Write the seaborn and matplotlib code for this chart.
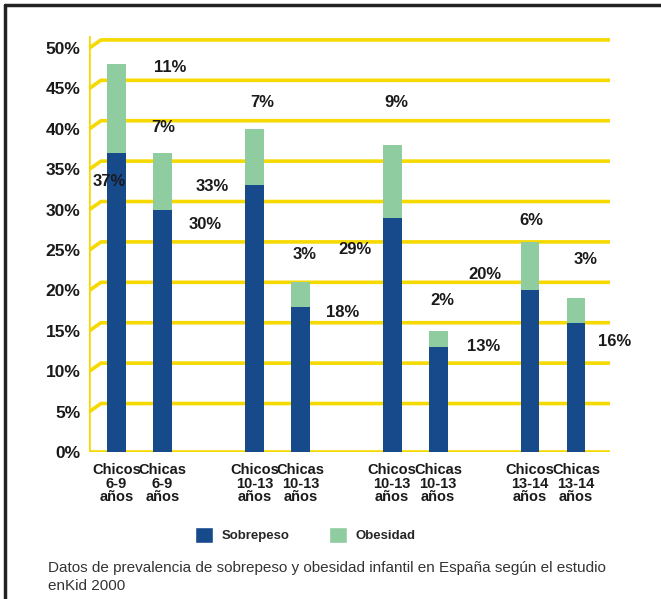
import numpy as np
import pandas as pd
import matplotlib
matplotlib.use("Agg")
import matplotlib.pyplot as plt
import seaborn as sns
from matplotlib.patches import Patch
from matplotlib.lines import Line2D

sns.set_theme(style="white")
plt.rcParams['font.family'] = ['Liberation Sans', 'DejaVu Sans']

# datos
grupos = ["Chicos\n6-9\naños", "Chicas\n6-9\naños",
          "Chicos\n10-13\naños", "Chicas\n10-13\naños",
          "Chicos\n10-13\naños", "Chicas\n10-13\naños",
          "Chicos\n13-14\naños", "Chicas\n13-14\naños"]
sobrepeso = [37, 30, 33, 18, 29, 13, 20, 16]
obesidad = [11, 7, 7, 3, 9, 2, 6, 3]
yticks = [0, 5, 10, 15, 20, 25, 30, 35, 40, 45, 50]

# posicion de las etiquetas (desplazamientos respecto a la barra)
off_sob = [(-0.17, -3.5), (0.93, -1.9), (-0.91, -0.2), (0.93, -0.7),
           (-0.8, -4.0), (0.98, 0.0), (-0.98, 2.0), (0.85, -2.3)]
off_obe = [(1.17, -0.4), (0.02, 3.2), (0.17, 3.2), (0.1, 3.4),
           (0.1, 5.2), (0.09, 3.8), (0.02, 2.7), (0.2, 4.8)]

AZUL = "#174a8b"
VERDE = "#8fcca0"
AMARILLO = "#f5d900"

pos = [g * 3 + i for g in range(4) for i in range(2)]
df = pd.DataFrame({"pos": pos, "grupo": grupos,
                   "sobrepeso": sobrepeso, "obesidad": obesidad})
df["total"] = df["sobrepeso"] + df["obesidad"]

fig = plt.figure(figsize=(6.61, 5.99), dpi=100)
ax = fig.add_axes([89 / 661, (599 - 452) / 599, (610 - 89) / 661, 51.5 * 8.08 / 599])

x_izq, x_der = -0.59, 10.74
ax.set_xlim(x_izq, x_der)
ax.set_ylim(0, 51.5)

# rejilla amarilla con efecto 3D
for t in yticks[1:]:
    ax.plot([x_izq, x_izq + 0.25, x_der], [t, t + 1.0, t + 1.0],
            color=AMARILLO, lw=2.6, zorder=1, solid_capstyle='butt', clip_on=False)
ax.axhline(0, color=AMARILLO, lw=2.6, zorder=1)
ax.axvline(x_izq, color=AMARILLO, lw=2.6, zorder=1)

sns.barplot(data=df, x="pos", y="total", native_scale=True, color=VERDE,
            width=0.41, saturation=1, linewidth=0, ax=ax, zorder=3)
sns.barplot(data=df, x="pos", y="sobrepeso", native_scale=True, color=AZUL,
            width=0.41, saturation=1, linewidth=0, ax=ax, zorder=4)

for i, row in df.iterrows():
    dx, dy = off_sob[i]
    ax.text(row["pos"] + dx, row["sobrepeso"] + dy, f"{row['sobrepeso']}%",
            ha='center', va='center', fontsize=12, fontweight='bold',
            color="#1a1a1a", zorder=5, clip_on=False)
    dx, dy = off_obe[i]
    ax.text(row["pos"] + dx, row["total"] + dy, f"{row['obesidad']}%",
            ha='center', va='center', fontsize=12, fontweight='bold',
            color="#1a1a1a", zorder=5, clip_on=False)

for s in ax.spines.values():
    s.set_visible(False)

ax.set_yticks(yticks)
ax.set_yticklabels([f"{t}%" for t in yticks], fontsize=12.5, fontweight='bold', color="#1a1a1a")
ax.tick_params(axis='y', length=0, pad=6)
ax.set_xticks(pos)
ax.set_xticklabels(grupos, fontsize=10.5, fontweight='bold', color="#1a1a1a", linespacing=0.95)
ax.set_xticks([k - 0.6 for k in range(12)], minor=True)
ax.tick_params(axis='x', which='major', length=0, pad=8)
ax.tick_params(axis='x', which='minor', length=5, width=2, color=AMARILLO, direction='out')
ax.set_xlabel("")
ax.set_ylabel("")
ax.grid(False)

handles = [Patch(facecolor=AZUL, label="Sobrepeso"), Patch(facecolor=VERDE, label="Obesidad")]
fig.legend(handles=handles, loc='center', bbox_to_anchor=(305 / 661, 1 - 535 / 599), ncol=2,
           frameon=False, handlelength=1.4, handleheight=1.5, columnspacing=3.0,
           handletextpad=0.6, prop={'weight': 'bold', 'size': 9.5})

fig.text(48 / 661, 1 - 577 / 599,
         "Datos de prevalencia de sobrepeso y obesidad infantil en España según el estudio\nenKid 2000",
         fontsize=11, color="#333333", va='center', ha='left', linespacing=1.45)

# marco
fig.add_artist(Line2D([5 / 661, 1], [1 - 5 / 599, 1 - 5 / 599], color="#222222", lw=2.5))
fig.add_artist(Line2D([5 / 661, 5 / 661], [0, 1 - 5 / 599], color="#222222", lw=2.5))

fig.savefig("out.png", dpi=100)
